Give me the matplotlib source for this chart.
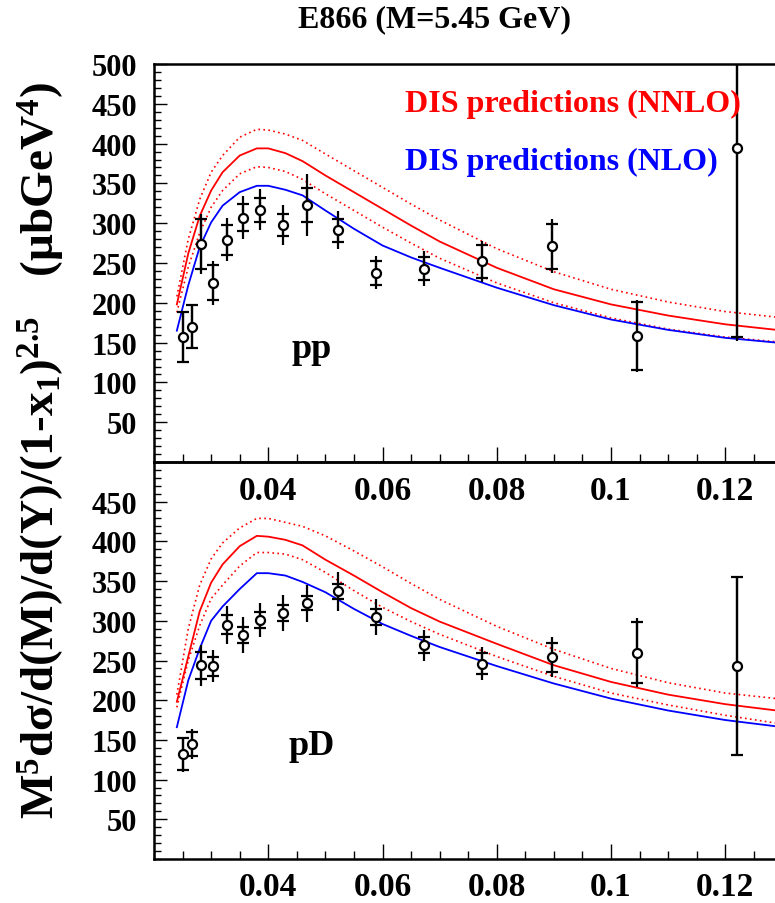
import numpy as np
import matplotlib
matplotlib.use('Agg')
import matplotlib.pyplot as plt
from matplotlib.ticker import MultipleLocator, FixedLocator

plt.rcParams['font.family'] = ['Liberation Serif', 'DejaVu Serif']
plt.rcParams['font.weight'] = 'bold'
plt.rcParams['mathtext.fontset'] = 'custom'
plt.rcParams['mathtext.rm'] = 'Liberation Serif:bold'
plt.rcParams['mathtext.it'] = 'Liberation Serif:bold'
plt.rcParams['mathtext.bf'] = 'Liberation Serif:bold'

# x2 bins (same in both panels)
xdat = [0.0250, 0.0266, 0.0283, 0.0303, 0.0327, 0.0355, 0.0386, 0.0425,
        0.0468, 0.0522, 0.0589, 0.0673, 0.0774, 0.0896, 0.1046, 0.1221]

# pp data
pp_y = [157, 170, 274, 225, 279, 307, 317, 298, 323, 291, 238, 243, 252, 271, 158, 395]
pp_stat = [31, 27, 31, 22, 19, 17, 15, 14, 21, 14, 15, 14, 21, 28, 43, 238]
pp_tot = [33, 28, 38, 28, 27, 27, 26, 25, 39, 24, 21, 22, 26, 34, 45, 243]

# pD data
pd_y = [132, 145, 244, 243, 295, 282, 301, 310, 322, 337, 305, 269, 246, 254, 260, 243]
pd_stat = [20, 15, 17, 12, 12, 10, 10, 10, 9, 9, 10, 10, 13, 18, 38, 112]
pd_tot = [22, 19, 26, 20, 24, 23, 22, 23, 23, 25, 23, 20, 21, 25, 44, 113]

# theory curves
xc = [0.024, 0.026, 0.028, 0.030, 0.032, 0.035, 0.038, 0.040, 0.043, 0.046, 0.050,
      0.055, 0.060, 0.065, 0.070, 0.080, 0.090, 0.100, 0.110, 0.120, 0.129]

pp_nnlo = [198, 262, 309, 341, 364, 385, 394, 394, 388, 378, 360,
           339, 318, 297, 277, 244, 217, 198, 184, 173, 166]
pp_nnlo_up = [208, 280, 330, 364, 385, 408, 418, 417, 412, 404, 387,
              366, 345, 324, 304, 268, 239, 217, 201, 189, 182]
pp_nnlo_dn = [188, 245, 288, 320, 341, 362, 371, 370, 365, 355, 337,
              316, 295, 275, 256, 225, 200, 181, 167, 157, 151]
pp_nlo = [165, 222, 270, 301, 322, 339, 347, 347, 342, 335, 316,
          293, 272, 257, 244, 219, 197, 179, 166, 156, 150]

pd_nnlo = [198, 255, 312, 348, 371, 394, 407, 406, 402, 395, 377,
           357, 336, 316, 299, 271, 244, 223, 207, 195, 187]
pd_nnlo_up = [207, 290, 345, 378, 398, 417, 429, 429, 424, 419, 407,
              388, 368, 347, 327, 293, 264, 240, 222, 209, 202]
pd_nnlo_dn = [191, 250, 294, 328, 345, 369, 386, 386, 384, 377, 361,
              338, 317, 299, 283, 255, 230, 209, 194, 181, 171]
pd_nlo = [166, 225, 265, 300, 318, 340, 360, 360, 357, 349, 336,
          315, 296, 281, 267, 243, 221, 202, 187, 175, 167]

fig = plt.figure(figsize=(7.75, 9.04), dpi=100)
ax1 = fig.add_axes([0.1987, 0.4878, 0.805, 0.4403])
ax2 = fig.add_axes([0.1987, 0.0487, 0.805, 0.4391])
ax2.patch.set_visible(False)


def panel(ax, yd, st, tot, nnlo, up, dn, nlo, lab, yt):
    ax.plot(xc, up, color='red', lw=1.2, ls=(0, (1, 2)))
    ax.plot(xc, dn, color='red', lw=1.2, ls=(0, (1, 2)))
    ax.plot(xc, nnlo, color='red', lw=1.3)
    ax.plot(xc, nlo, color='blue', lw=1.3)
    ax.errorbar(xdat, yd, yerr=tot, fmt='none', ecolor='black', elinewidth=1.6, capsize=0)
    ax.errorbar(xdat, yd, yerr=st, fmt='o', color='black', mfc='white', mec='black',
                ms=6.5, mew=1.6, elinewidth=1.6, capsize=4.5, capthick=1.4)
    ax.text(0.0476, 132, lab, fontsize=26, ha='center', va='baseline')
    ax.set_xlim(0.0200, 0.1292)
    ax.set_ylim(0, 500)
    ax.xaxis.set_major_locator(FixedLocator([0.04, 0.06, 0.08, 0.10, 0.12]))
    ax.set_xticklabels(['0.04', '0.06', '0.08', '0.1', '0.12'])
    ax.xaxis.set_minor_locator(MultipleLocator(0.005))
    ax.yaxis.set_major_locator(FixedLocator(yt))
    ax.yaxis.set_minor_locator(MultipleLocator(10))
    ax.tick_params(axis='x', which='major', direction='in', length=11, width=1.0,
                   labelsize=24, pad=9)
    ax.tick_params(axis='x', which='minor', direction='in', length=6, width=1.0)
    ax.tick_params(axis='y', which='major', direction='in', length=9, width=1.0,
                   labelsize=22, pad=12)
    ax.tick_params(axis='y', which='minor', direction='in', length=5, width=1.0)
    for s in ax.spines.values():
        s.set_linewidth(1.8)
    ax.spines['right'].set_visible(False)


panel(ax1, pp_y, pp_stat, pp_tot, pp_nnlo, pp_nnlo_up, pp_nnlo_dn, pp_nlo, 'pp',
      [50, 100, 150, 200, 250, 300, 350, 400, 450, 500])
panel(ax2, pd_y, pd_stat, pd_tot, pd_nnlo, pd_nnlo_up, pd_nnlo_dn, pd_nlo, 'pD',
      [50, 100, 150, 200, 250, 300, 350, 400, 450])

ax1.text(0.0639, 450, 'DIS predictions (NNLO)', color='red', fontsize=23, va='center')
ax1.text(0.0639, 377, 'DIS predictions (NLO)', color='blue', fontsize=23, va='center')

fig.text(0.56, 0.978, 'E866 (M=5.45 GeV)', fontsize=23, ha='center', va='center')
fig.text(0.054, 0.502,
         r'$\mathregular{M^5d\sigma/d(M)/d(Y)/(1\text{-}x_1)^{2.5}\quad(\mu bGeV^4)}$',
         fontsize=34, rotation=90, ha='center', va='center')

fig.savefig('out.png', dpi=100)
